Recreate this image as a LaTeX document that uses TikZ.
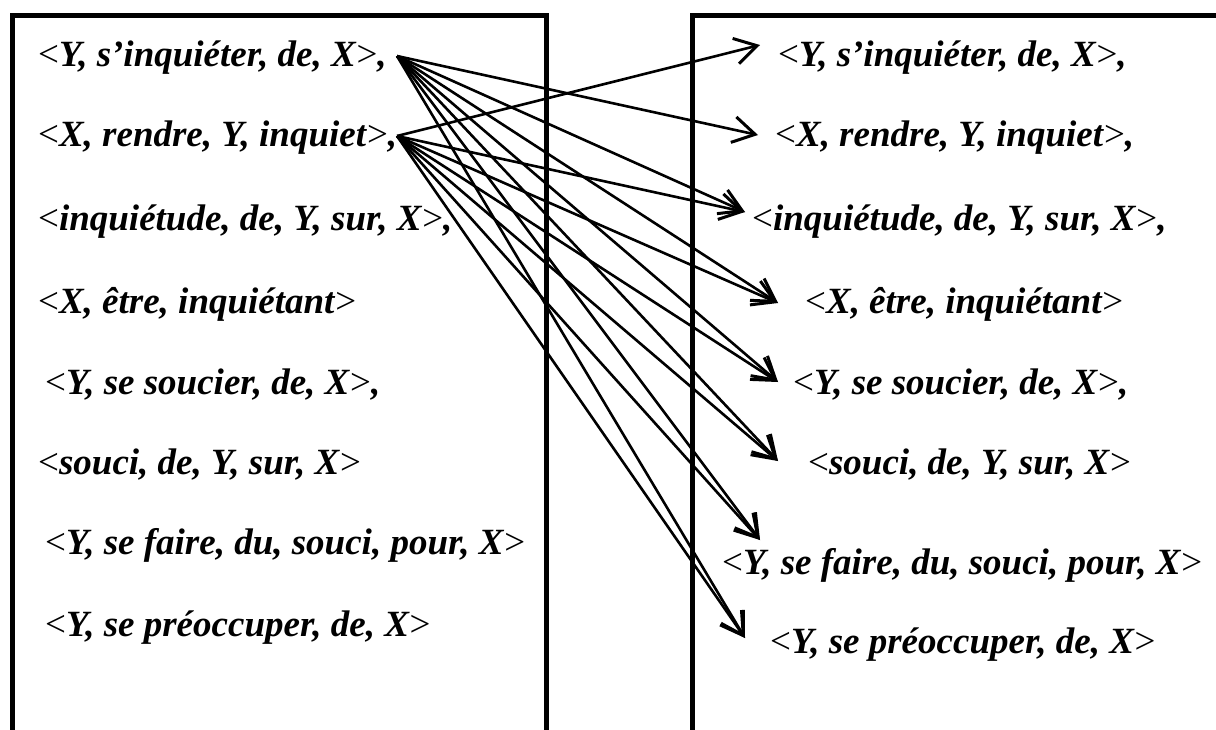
\documentclass[tikz,border=0pt]{standalone}
\usepackage{fontspec}
\setmainfont{Liberation Serif}
\usetikzlibrary{arrows.meta}
\newcommand{\lt}{\textnormal{<}}
\newcommand{\gt}{\textnormal{>}}
\tikzset{
  item/.style={anchor=west, inner sep=0pt, font=\fontsize{37}{40}\selectfont\bfseries\itshape},
  frame/.style={line width=5pt},
  link/.style={line width=2.6pt, -{Straight Barb[length=22pt,width=26pt,line width=3pt]}}
}
\begin{document}
\begin{tikzpicture}[x=1pt,y=-1pt]
\clip (0,0) rectangle (1216,729);
\fill[white] (0,0) rectangle (1216,729);
% frames
\draw[frame] (12,760) -- (12,15) -- (546,15) -- (546,760);
\draw[frame] (692,760) -- (692,15) -- (1240,15);
% left column
\node[item] (L1) at (38,58) {\lt Y, s’inquiéter, de, X\gt,};
\node[item] (L2) at (38,138) {\lt X, rendre, Y, inquiet\gt,};
\node[item] (L3) at (38,222) {\lt inquiétude, de, Y, sur, X\gt,};
\node[item] (L4) at (38,304) {\lt X, être, inquiétant\gt};
\node[item] (L5) at (45,385) {\lt Y, se soucier, de, X\gt,};
\node[item] (L6) at (38,465) {\lt souci, de, Y, sur, X\gt};
\node[item] (L7) at (45,545) {\lt Y, se faire, du, souci, pour, X\gt};
\node[item] (L8) at (45,628) {\lt Y, se préoccuper, de, X\gt};
% right column
\node[item] (R1) at (778,58) {\lt Y, s’inquiéter, de, X\gt,};
\node[item] (R2) at (775,138) {\lt X, rendre, Y, inquiet\gt,};
\node[item] (R3) at (752,222) {\lt inquiétude, de, Y, sur, X\gt,};
\node[item] (R4) at (805,304) {\lt X, être, inquiétant\gt};
\node[item] (R5) at (793,385) {\lt Y, se soucier, de, X\gt,};
\node[item] (R6) at (808,465) {\lt souci, de, Y, sur, X\gt};
\node[item] (R7) at (722,565) {\lt Y, se faire, du, souci, pour, X\gt};
\node[item] (R8) at (770,645) {\lt Y, se préoccuper, de, X\gt};
% arrow ends
\coordinate (s1) at (397,56);
\coordinate (s2) at (397,136);
\coordinate (t1) at (760,45);
\coordinate (t2) at (758,135);
\coordinate (t3) at (745,212);
\coordinate (t4) at (778,303);
\coordinate (t5) at (778,382);
\coordinate (t6) at (778,461);
\coordinate (t7) at (760,540);
\coordinate (t8) at (745,638);
\foreach \t in {t2,t3,t4,t5,t6,t7,t8} \draw[link] (s1) -- (\t);
\foreach \t in {t1,t3,t4,t5,t6,t7,t8} \draw[link] (s2) -- (\t);
\end{tikzpicture}
\end{document}
